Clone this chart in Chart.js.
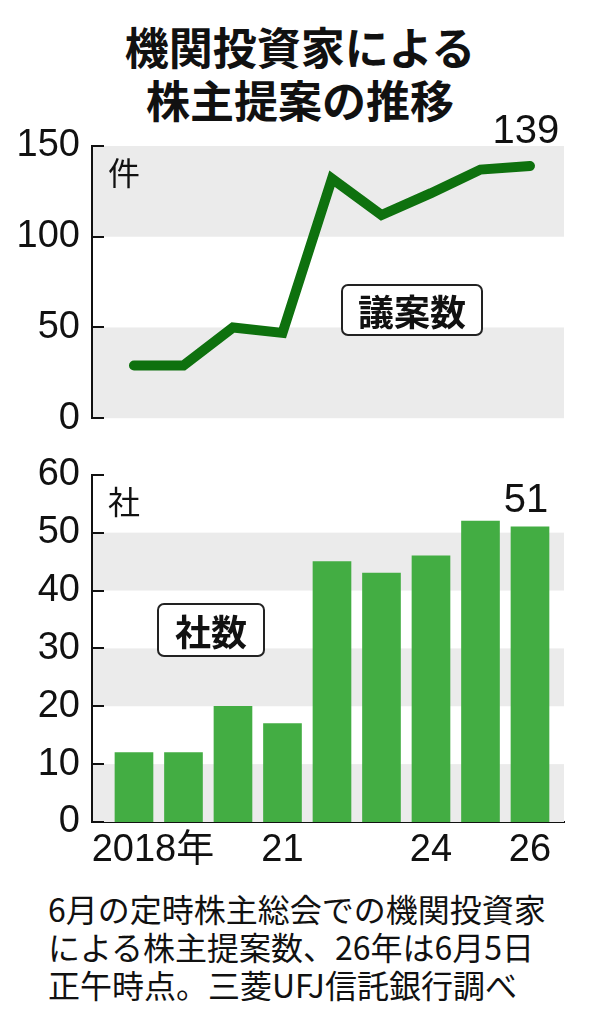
<!DOCTYPE html>
<html>
<head>
<meta charset="utf-8">
<script src="https://cdn.jsdelivr.net/npm/chart.js@4"></script>
<style>
  body { margin: 0; background: #fff; }
  #wrap { position: relative; width: 600px; height: 1017px; overflow: hidden; }
  .title { position: absolute; left: 0; width: 600px; text-align: center;
           font: bold 44px "Noto Sans CJK JP", sans-serif; line-height: 52px; color: #111; }
  .box { position: absolute; display: flex; align-items: center; justify-content: center;
         box-sizing: border-box; border: 2px solid #222; border-radius: 7px; background: #fff;
         font: bold 36px "Noto Sans CJK JP", sans-serif; color: #111; }
  #note { position: absolute; left: 48px; top: 889px; font: 32px "Noto Sans CJK JP", sans-serif;
          line-height: 38px; color: #111; white-space: nowrap; }
  canvas { position: absolute; left: 0; }
</style>
</head>
<body>
<div id="wrap">
  <div class="title" style="top:20px">機関投資家による</div>
  <div class="title" style="top:73px">株主提案の推移</div>
  <canvas id="lineChart" width="600" height="353" style="top:100px"></canvas>
  <canvas id="barChart" width="600" height="440" style="top:440px"></canvas>
  <div class="box" style="left:341px; top:284px; width:142px; height:52px">議案数</div>
  <div class="box" style="left:157px; top:603px; width:108px; height:54px">社数</div>
  <div id="note">6月の定時株主総会での機関投資家<br>による株主提案数、26年は6月5日<br>正午時点。三菱UFJ信託銀行調べ</div>
</div>
<script>
// years 2018..2026, index 0..8
const years = ['2018', '2019', '2020', '2021', '2022', '2023', '2024', '2025', '2026'];
const xTickIdx = [0, 3, 6, 8];
const xTickLabels = ['\u30002018年', '21', '24', '26'];
const proposals = [29, 29, 50, 47, 132, 112, 124, 137, 139]; // 議案数
const companies = [12, 12, 20, 17, 45, 43, 46, 52, 51];      // 社数

const numFont = '"Liberation Sans", "Noto Sans CJK JP", sans-serif';
const xMin = -0.848, xMax = 8.687;

// grey bands + inward ticks + unit label + last value label
function decoPlugin(bands, unit, lastLabel) {
    return {
        id: 'deco',
        beforeDatasetsDraw(chart) {
            const c = chart.ctx, a = chart.chartArea, y = chart.scales.y;
            c.save();
            c.fillStyle = '#ebebeb';
            bands.forEach(b => {
                const top = y.getPixelForValue(b[1]), bot = y.getPixelForValue(b[0]);
                c.fillRect(a.left + 1, top, a.right - a.left - 1, bot - top);
            });
            c.restore();
        },
        afterDatasetsDraw(chart) {
            const c = chart.ctx, a = chart.chartArea, y = chart.scales.y;
            c.save();
            c.strokeStyle = '#111';
            c.lineWidth = 2;
            y.ticks.forEach(t => {
                const py = Math.round(y.getPixelForValue(t.value));
                c.beginPath();
                c.moveTo(a.left, py);
                c.lineTo(a.left + 12, py);
                c.stroke();
            });
            c.fillStyle = '#111';
            c.font = '32px "Noto Sans CJK JP", sans-serif';
            c.textBaseline = 'middle';
            c.textAlign = 'left';
            c.fillText(unit, a.left + 16, a.top + 27);
            // value label of the last point
            const meta = chart.getDatasetMeta(0);
            const el = meta.data[meta.data.length - 1];
            const v = chart.data.datasets[0].data[meta.data.length - 1].y;
            c.font = '40px ' + numFont;
            c.textAlign = 'center';
            c.textBaseline = 'bottom';
            const top = lastLabel === 'bar' ? el.y - 6 : el.y - 14;
            c.fillText(String(v), el.x - 4, top);
            c.restore();
        }
    };
}

function yAxis(max, step) {
    return {
        min: 0, max: max,
        afterFit(s) { s.width = 92; },
        border: { display: true, color: '#111', width: 2 },
        grid: { display: false, drawTicks: false },
        ticks: { stepSize: step, padding: 12, color: '#111', font: { family: numFont, size: 38 } }
    };
}

new Chart(document.getElementById('lineChart'), {
    type: 'line',
    data: {
        datasets: [{
            data: proposals.map((v, i) => ({ x: i, y: v })),
            borderColor: '#0e710e',
            borderWidth: 10,
            borderCapStyle: 'round',
            borderJoinStyle: 'miter',
            pointRadius: 0,
            tension: 0,
            fill: false
        }]
    },
    options: {
        responsive: false,
        animation: false,
        layout: { padding: { top: 46, bottom: 9, left: 0, right: 36 } },
        plugins: { legend: { display: false }, tooltip: { enabled: false } },
        scales: {
            x: { type: 'linear', min: xMin, max: xMax, offset: false, display: false },
            y: yAxis(150, 50)
        }
    },
    plugins: [decoPlugin([[0, 50], [100, 150]], '件', 'line')]
});

new Chart(document.getElementById('barChart'), {
    type: 'bar',
    data: {
        datasets: [{
            data: companies.map((v, i) => ({ x: i, y: v })),
            backgroundColor: '#43ad43',
            barThickness: 38,
            borderWidth: 0
        }]
    },
    options: {
        responsive: false,
        animation: false,
        layout: { padding: { top: 34, bottom: 0, left: 0, right: 36 } },
        plugins: { legend: { display: false }, tooltip: { enabled: false } },
        scales: {
            x: {
                type: 'linear', min: xMin, max: xMax, offset: false,
                afterFit(s) { s.height = 58; },
                afterBuildTicks(s) { s.ticks = xTickIdx.map(v => ({ value: v })); },
                border: { display: true, color: '#111', width: 2 },
                grid: { display: false, drawTicks: false, offset: false },
                ticks: {
                    autoSkip: false, maxRotation: 0, padding: 6, color: '#111',
                    font: { family: numFont, size: 38 },
                    callback: v => xTickLabels[xTickIdx.indexOf(v)]
                }
            },
            y: yAxis(60, 10)
        }
    },
    plugins: [decoPlugin([[0, 10], [20, 30], [40, 50]], '社', 'bar')]
});
</script>
</body>
</html>
